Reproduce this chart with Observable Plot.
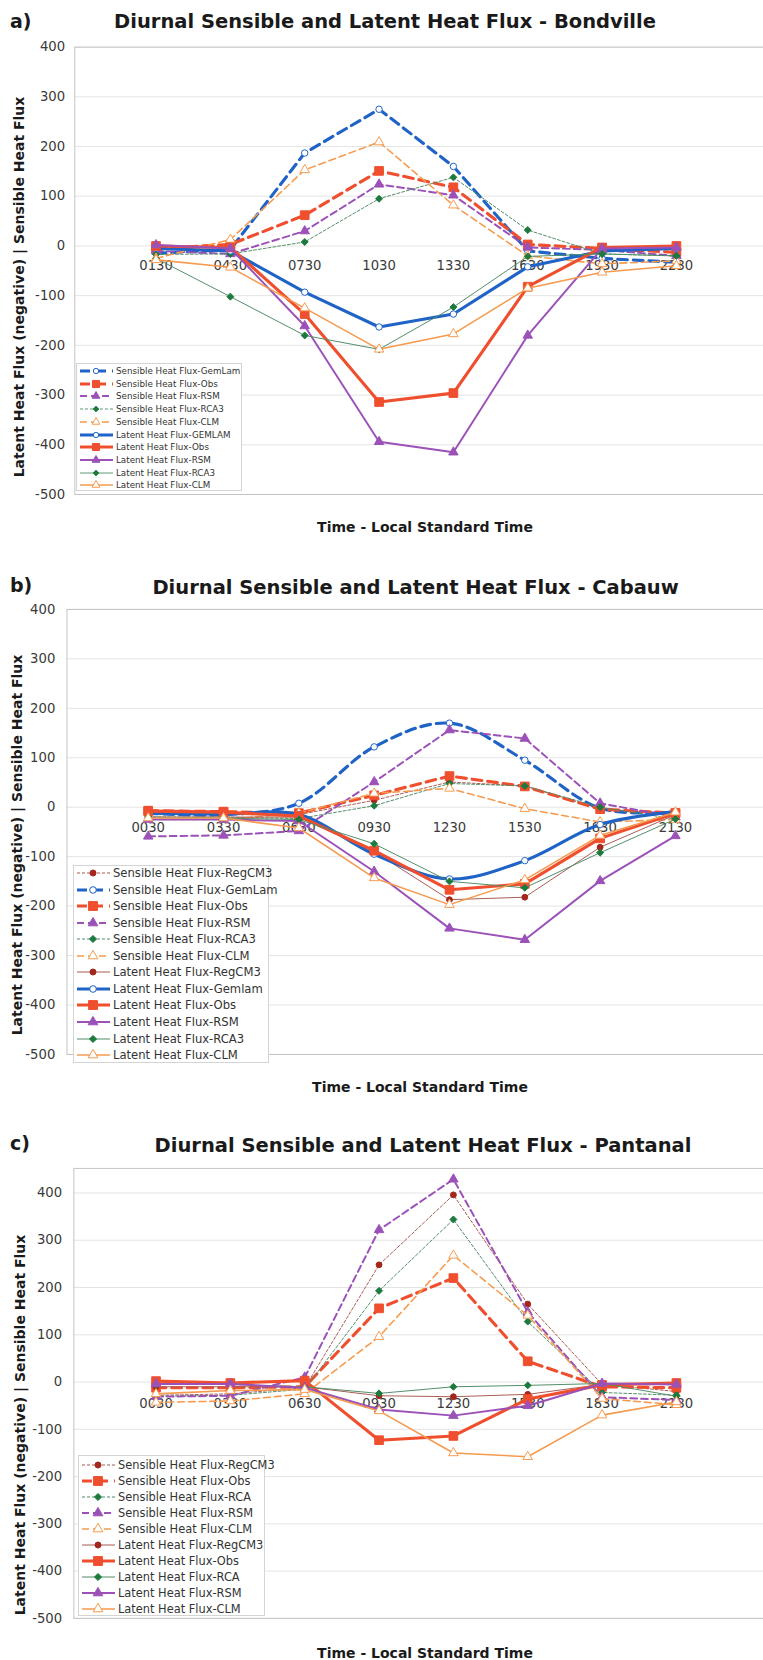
<!DOCTYPE html>
<html><head><meta charset="utf-8">
<script src="https://cdn.jsdelivr.net/npm/d3@7"></script>
<script src="https://cdn.jsdelivr.net/npm/@observablehq/plot@0.6"></script>
<style>
body{margin:0;background:#fff;}
#wrap{position:relative;width:763px;height:1660px;overflow:hidden;font-family:"DejaVu Sans",sans-serif;background:#fff;}
.abs{position:absolute;white-space:nowrap;}
.title{font-weight:bold;font-size:19.5px;color:#1a1a1a;transform:translate(-50%,-50%);}
.tag{font-weight:bold;font-size:19px;color:#1a1a1a;transform:translate(0,-50%);}
.ytitle{font-weight:bold;font-size:14px;color:#1a1a1a;transform:translate(-50%,-50%) rotate(-90deg);}
.xtitle{font-weight:bold;font-size:14px;color:#1a1a1a;transform:translate(-50%,-50%);}
.legend{background:#fff;border:1px solid #d4d4d4;box-sizing:border-box;}
.lrow{position:absolute;display:flex;align-items:center;color:#333;}
</style></head>
<body><div id="wrap"></div>
<script>
// ---------- DATA ----------
const timesBondville = ["0130","0430","0730","1030","1330","1630","1930","2230"];
const timesCabauw    = ["0030","0330","0630","0930","1230","1530","1830","2130"];
const timesPantanal  = ["0030","0330","0630","0930","1230","1530","1830","2130"];
const yTicks = [400,300,200,100,0,-100,-200,-300,-400,-500];

// a) Bondville
const bondSensGemLam = [-15, -7, 187, 275, 160, -10, -25, -33];
const bondSensObs    = [-5, 3, 62, 151, 118, 3, -5, -13];
const bondSensRSM    = [-10, -16, 30, 124, 102, -3, -8, -20];
const bondSensRCA3   = [-17, -16, 8, 95, 138, 32, -16, -20];
const bondSensCLM    = [-25, 13, 153, 209, 82, -20, -36, -30];
const bondLatGemLam  = [-5, -10, -93, -163, -137, -42, -10, -5];
const bondLatObs     = [0, -3, -137, -314, -296, -82, -3, 0];
const bondLatRSM     = [2, -5, -161, -394, -415, -180, -5, -3];
const bondLatRCA3    = [-25, -102, -180, -208, -123, -21, -16, -20];
const bondLatCLM     = [-28, -43, -125, -208, -177, -85, -53, -40];

// b) Cabauw
const cabSensRegCM3 = [-15, -15, -15, 14, 51, 43, -3, -15];
const cabSensGemLam = [-12, -15, 8, 122, 170, 95, -2, -10];
const cabSensObs    = [-7, -9, -12, 24, 63, 42, -4, -12];
const cabSensRSM    = [-59, -57, -48, 51, 156, 139, 8, -20];
const cabSensRCA3   = [-20, -20, -23, 3, 48, 43, 0, -24];
const cabSensCLM    = [-25, -25, -12, 28, 38, -3, -30, -25];
const cabLatRegCM3  = [-20, -20, -20, -90, -187, -182, -81, -15];
const cabLatGemLam  = [-12, -14, -15, -95, -145, -108, -35, -9];
const cabLatObs     = [-8, -10, -18, -88, -167, -155, -63, -12];
const cabLatRSM     = [-25, -25, -28, -130, -245, -268, -149, -58];
const cabLatRCA3    = [-20, -22, -25, -74, -150, -163, -92, -24];
const cabLatCLM     = [-22, -22, -42, -143, -197, -147, -57, -10];

// c) Pantanal
const panSensRegCM3 = [-28, -25, -12, 248, 396, 165, -5, -20];
const panSensObs    = [-12, -12, -10, 156, 220, 44, -10, -12];
const panSensRCA    = [-30, -28, -15, 193, 344, 128, -22, -28];
const panSensRSM    = [-31, -29, 10, 322, 429, 148, -32, -38];
const panSensCLM    = [-43, -40, -25, 96, 268, 141, -35, -48];
const panLatRegCM3  = [-10, -10, -10, -29, -31, -26, -5, -5];
const panLatObs     = [2, -2, 3, -123, -114, -36, -6, -2];
const panLatRCA     = [-5, -5, -10, -24, -10, -7, -3, -30];
const panLatRSM     = [-4, -4, -12, -58, -71, -50, -3, -5];
const panLatCLM     = [-25, -18, -16, -61, -150, -158, -70, -42];

// ---------- STYLES ----------
const modelStyle = {
  GemLam: {color:"#1f63c6", mcolor:"#1f63c6", symbol:"circle",  open:true,  r:3.3, w:3.2, dash:"10,6"},
  Obs:    {color:"#ef4f2e", mcolor:"#ef4f2e", symbol:"square",  open:false, r:5,   w:3.2, dash:"10,6"},
  RSM:    {color:"#9b51b8", mcolor:"#9b51b8", symbol:"triangle",open:false, r:3.6, w:2,   dash:"7,4"},
  RCA:    {color:"#4f8c66", mcolor:"#1c7a3c", symbol:"diamond2",open:false, r:3.2, w:1,   dash:"3,2"},
  CLM:    {color:"#f69a4e", mcolor:"#f69a4e", symbol:"triangle",open:true,  r:3.6, w:1.6, dash:"7,4"},
  RegCM3: {color:"#a85a52", mcolor:"#a3271c", symbol:"circle",  open:false, r:3,   w:1,   dash:"3,2"}
};

const panels = [
  {tag:"a)", title:"Diurnal Sensible and Latent Heat Flux - Bondville", titleX:385, titleY:20.7, tagY:20.7,
   top:0, times:timesBondville, domain:[-500,400], mL:76, mT:47.7, mB:35, xr:[120,730], pad:10, ldy:20,
   yt:{x:19, y:287}, xt:{x:425, y:527},
   legend:{left:76, top:363, w:166, h:128, row0:371, step:12.7, font:8.75, scale:0.8},
   series:[
    {label:"Sensible Heat Flux-GemLam", kind:"s", m:"GemLam", v:bondSensGemLam},
    {label:"Sensible Heat Flux-Obs", kind:"s", m:"Obs", v:bondSensObs},
    {label:"Sensible Heat Flux-RSM", kind:"s", m:"RSM", v:bondSensRSM},
    {label:"Sensible Heat Flux-RCA3", kind:"s", m:"RCA", v:bondSensRCA3},
    {label:"Sensible Heat Flux-CLM", kind:"s", m:"CLM", v:bondSensCLM},
    {label:"Latent Heat Flux-GEMLAM", kind:"l", m:"GemLam", v:bondLatGemLam},
    {label:"Latent Heat Flux-Obs", kind:"l", m:"Obs", v:bondLatObs},
    {label:"Latent Heat Flux-RSM", kind:"l", m:"RSM", v:bondLatRSM},
    {label:"Latent Heat Flux-RCA3", kind:"l", m:"RCA", v:bondLatRCA3},
    {label:"Latent Heat Flux-CLM", kind:"l", m:"CLM", v:bondLatCLM}
   ]},
  {tag:"b)", title:"Diurnal Sensible and Latent Heat Flux - Cabauw", titleX:415.6, titleY:586.7, tagY:585,
   top:560, times:timesCabauw, domain:[-500,400], mL:68, mT:50, mB:35, xr:[112,729], pad:12, ldy:21,
   yt:{x:17, y:845}, xt:{x:420, y:1087}, smoothGem:true,
   legend:{left:73, top:865, w:196, h:198, row0:873, step:16.55, font:11.6, scale:1},
   series:[
    {label:"Sensible Heat Flux-RegCM3", kind:"s", m:"RegCM3", v:cabSensRegCM3},
    {label:"Sensible Heat Flux-GemLam", kind:"s", m:"GemLam", v:cabSensGemLam},
    {label:"Sensible Heat Flux-Obs", kind:"s", m:"Obs", v:cabSensObs},
    {label:"Sensible Heat Flux-RSM", kind:"s", m:"RSM", v:cabSensRSM},
    {label:"Sensible Heat Flux-RCA3", kind:"s", m:"RCA", v:cabSensRCA3},
    {label:"Sensible Heat Flux-CLM", kind:"s", m:"CLM", v:cabSensCLM},
    {label:"Latent Heat Flux-RegCM3", kind:"l", m:"RegCM3", v:cabLatRegCM3},
    {label:"Latent Heat Flux-Gemlam", kind:"l", m:"GemLam", v:cabLatGemLam},
    {label:"Latent Heat Flux-Obs", kind:"l", m:"Obs", v:cabLatObs},
    {label:"Latent Heat Flux-RSM", kind:"l", m:"RSM", v:cabLatRSM},
    {label:"Latent Heat Flux-RCA3", kind:"l", m:"RCA", v:cabLatRCA3},
    {label:"Latent Heat Flux-CLM", kind:"l", m:"CLM", v:cabLatCLM}
   ]},
  {tag:"c)", title:"Diurnal Sensible and Latent Heat Flux - Pantanal", titleX:423, titleY:1145, tagY:1143,
   top:1120, times:timesPantanal, domain:[-500,452], mL:75, mT:49, mB:31, xr:[119,730], pad:12, ldy:22,
   yt:{x:19.5, y:1424.5}, xt:{x:425, y:1653},
   legend:{left:78, top:1455, w:187, h:161, row0:1465, step:16, font:11.4, scale:1},
   series:[
    {label:"Sensible Heat Flux-RegCM3", kind:"s", m:"RegCM3", v:panSensRegCM3},
    {label:"Sensible Heat Flux-Obs", kind:"s", m:"Obs", v:panSensObs},
    {label:"Sensible Heat Flux-RCA", kind:"s", m:"RCA", v:panSensRCA},
    {label:"Sensible Heat Flux-RSM", kind:"s", m:"RSM", v:panSensRSM},
    {label:"Sensible Heat Flux-CLM", kind:"s", m:"CLM", v:panSensCLM},
    {label:"Latent Heat Flux-RegCM3", kind:"l", m:"RegCM3", v:panLatRegCM3},
    {label:"Latent Heat Flux-Obs", kind:"l", m:"Obs", v:panLatObs},
    {label:"Latent Heat Flux-RCA", kind:"l", m:"RCA", v:panLatRCA},
    {label:"Latent Heat Flux-RSM", kind:"l", m:"RSM", v:panLatRSM},
    {label:"Latent Heat Flux-CLM", kind:"l", m:"CLM", v:panLatCLM}
   ]}
];

const wrap = document.getElementById("wrap");
function addDiv(cls, text, x, y) {
  const d = document.createElement("div");
  d.className = "abs " + cls;
  d.textContent = text;
  d.style.left = x + "px"; d.style.top = y + "px";
  wrap.appendChild(d);
  return d;
}
const symMap = {circle:d3.symbolCircle, square:d3.symbolSquare, triangle:d3.symbolTriangle, diamond2:d3.symbolDiamond2};

panels.forEach(p => {
  const H = 540;
  const marks = [
    Plot.ruleY(yTicks, {stroke:"#e3e3e3", strokeWidth:1}),
    Plot.frame({stroke:"#c4c4c4"}),
    Plot.axisY({ticks:yTicks, tickSize:0, tickPadding:p.pad, fontSize:13.5, fill:"#3a3a3a", tickFormat:d => String(d), label:null}),
    Plot.text(p.times, {x:d => d, y:() => 0, dy:p.ldy, text:d => d, fontSize:13.5, fill:"#3a3a3a"})
  ];
  p.series.forEach(s => {
    const st = modelStyle[s.m];
    const data = s.v.map((v, i) => ({t:p.times[i], v}));
    marks.push(Plot.line(data, {
      x:"t", y:"v", stroke:st.color, strokeWidth:st.w,
      strokeDasharray: s.kind === "s" ? st.dash : null,
      curve: (p.smoothGem && s.m === "GemLam") ? "catmull-rom" : "linear"
    }));
    marks.push(Plot.dot(data, {
      x:"t", y:"v", symbol:st.symbol, r:st.r,
      fill: st.open ? "white" : st.mcolor, stroke: st.mcolor, strokeWidth:1
    }));
  });
  const svg = Plot.plot({
    width:780, height:H, marginLeft:p.mL, marginRight:0, marginTop:p.mT, marginBottom:p.mB,
    x:{type:"point", domain:p.times, range:p.xr, axis:null},
    y:{domain:p.domain},
    style:{fontFamily:"DejaVu Sans, sans-serif", background:"transparent", overflow:"visible"},
    marks
  });
  svg.style.position = "absolute";
  svg.style.left = "0px";
  svg.style.top = p.top + "px";
  wrap.appendChild(svg);

  addDiv("title", p.title, p.titleX, p.titleY);
  addDiv("tag", p.tag, 10, p.tagY);
  addDiv("ytitle", "Latent Heat Flux (negative) | Sensible Heat Flux", p.yt.x, p.yt.y);
  addDiv("xtitle", "Time - Local Standard Time", p.xt.x, p.xt.y);

  // legend
  const L = p.legend;
  const box = document.createElement("div");
  box.className = "abs legend";
  Object.assign(box.style, {left:L.left+"px", top:L.top+"px", width:L.w+"px", height:L.h+"px"});
  wrap.appendChild(box);
  p.series.forEach((s, i) => {
    const st = modelStyle[s.m];
    const row = document.createElement("div");
    row.className = "lrow";
    const cy = L.row0 + i * L.step;
    Object.assign(row.style, {left:(L.left+2)+"px", top:(cy-8)+"px", height:"16px", fontSize:L.font+"px"});
    const sw = d3.create("svg").attr("width", 36).attr("height", 16).style("margin-right","2px");
    sw.append("line").attr("x1",2).attr("x2",35).attr("y1",8).attr("y2",8)
      .attr("stroke", st.color).attr("stroke-width", st.w * (L.scale<1?0.9:1))
      .attr("stroke-dasharray", s.kind === "s" ? st.dash : null);
    const area = Math.PI * Math.pow(st.r, 2) * L.scale * L.scale;
    sw.append("path").attr("transform","translate(18,8)")
      .attr("d", d3.symbol(symMap[st.symbol], area)())
      .attr("fill", st.open ? "white" : st.mcolor).attr("stroke", st.mcolor).attr("stroke-width",1);
    row.appendChild(sw.node());
    const tx = document.createElement("span");
    tx.textContent = s.label;
    row.appendChild(tx);
    wrap.appendChild(row);
  });
});
</script>
</body></html>
